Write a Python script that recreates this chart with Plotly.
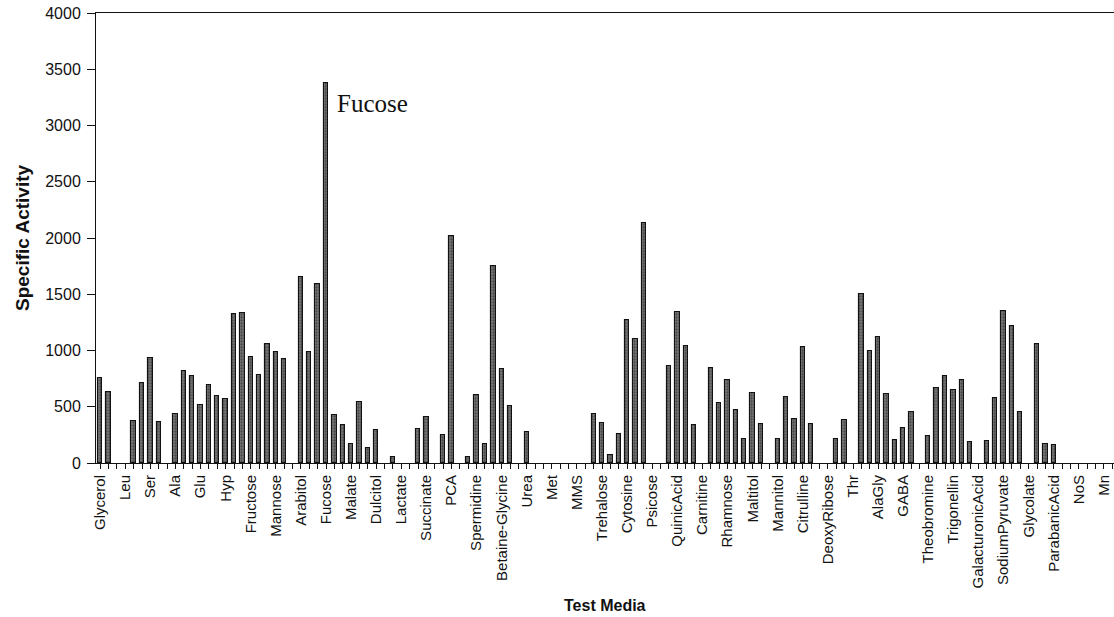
import plotly.graph_objects as go

# Test media, one name per group of three wells
media = [
    "Glycerol", "Leu", "Ser", "Ala", "Glu", "Hyp", "Fructose", "Mannose",
    "Arabitol", "Fucose", "Malate", "Dulcitol", "Lactate", "Succinate", "PCA",
    "Spermidine", "Betaine-Glycine", "Urea", "Met", "MMS", "Trehalose",
    "Cytosine", "Psicose", "QuinicAcid", "Carnitine", "Rhamnose", "Maltitol",
    "Mannitol", "Citrulline", "DeoxyRibose", "Thr", "AlaGly", "GABA",
    "Theobromine", "Trigonellin", "GalacturonicAcid", "SodiumPyruvate",
    "Glycolate", "ParabanicAcid", "NoS", "Mn",
]

# Specific activity for every well (three wells per medium)
activity = [
    755, 635, 0, 0, 373, 714, 930, 361, 0,          # Glycerol, Leu, Ser
    435, 820, 775, 520, 690, 595, 570, 1325, 1335,  # Ala, Glu, Hyp
    945, 780, 1055, 985, 925, 0, 1650, 985, 1590,   # Fructose, Mannose, Arabitol
    3380, 425, 340, 170, 545, 130, 290, 0, 50,      # Fucose, Malate, Dulcitol
    0, 0, 300, 410, 0, 245, 2015, 0, 55,            # Lactate, Succinate, PCA
    605, 170, 1750, 840, 505, 0, 275, 0, 0,         # Spermidine, Betaine-Glycine, Urea
    0, 0, 0, 0, 0, 435, 360, 70, 255,               # Met, MMS, Trehalose
    1275, 1105, 2135, 0, 0, 860, 1345, 1040, 335,   # Cytosine, Psicose, QuinicAcid
    0, 845, 530, 735, 470, 215, 625, 345, 0,        # Carnitine, Rhamnose, Maltitol
    210, 590, 395, 1030, 345, 0, 0, 213, 382,       # Mannitol, Citrulline, DeoxyRibose
    0, 1500, 992, 1117, 613, 201, 311, 453, 0,      # Thr, AlaGly, GABA
    240, 667, 770, 652, 734, 187, 0, 198, 578,      # Theobromine, Trigonellin, GalacturonicAcid
    1354, 1220, 450, 0, 1060, 172, 160, 0, 0,       # SodiumPyruvate, Glycolate, ParabanicAcid
    0, 0, 0, 0, 0,                                  # NoS, Mn
]

wells = list(range(len(activity)))
tick_text = [media[i // 3] if i % 3 == 0 and i // 3 < len(media) else "" for i in wells]
# empty wells are left blank so no outline stub is drawn on the axis
heights = [v if v > 0 else None for v in activity]

fig = go.Figure()
fig.add_trace(go.Bar(
    x=wells,
    y=heights,
    width=0.52,
    marker=dict(
        color="#777777",
        line=dict(color="#111111", width=1.1),
        pattern=dict(shape=".", fgcolor="#1e1e1e", size=3, solidity=0.45),
    ),
    showlegend=False,
))

fig.add_annotation(
    x=27, y=3200, xref="x", yref="y",
    text="Fucose", showarrow=False,
    xanchor="left", yanchor="middle", xshift=9,
    font=dict(family="Liberation Serif, Times New Roman, serif", size=25, color="#111"),
)

# Axis titles
fig.add_annotation(
    x=0.5, y=0, xref="paper", yref="paper",
    text="<b>Test Media</b>", showarrow=False,
    xanchor="center", yanchor="middle", yshift=-142,
    font=dict(family="Liberation Sans, Arial, sans-serif", size=16, color="#111"),
)
fig.add_annotation(
    x=0, y=0.5, xref="paper", yref="paper",
    text="<b>Specific Activity</b>", showarrow=False, textangle=-90,
    xanchor="center", yanchor="middle", xshift=-74,
    font=dict(family="Liberation Sans, Arial, sans-serif", size=19, color="#111"),
)

fig.update_layout(
    width=1114, height=617,
    margin=dict(l=96, r=0, t=13, b=154),
    paper_bgcolor="white", plot_bgcolor="white",
    bargap=0,
    font=dict(family="Liberation Sans, Arial, sans-serif", color="#111"),
)
fig.update_xaxes(
    range=[-0.5, 121.2],
    tickmode="array", tickvals=wells, ticktext=tick_text,
    tickangle=-90, tickfont=dict(size=15),
    ticks="outside", ticklen=5, tickcolor="#111", tickwidth=1,
    showline=True, linecolor="#111", linewidth=1, mirror=True,
    showgrid=False, zeroline=False, automargin=False,
)
fig.update_yaxes(
    range=[0, 4000], dtick=500,
    tickfont=dict(size=16),
    ticks="outside", ticklen=8, tickcolor="#111", tickwidth=1,
    ticklabelstandoff=3,
    showline=True, linecolor="#111", linewidth=1,
    showgrid=False, zeroline=False, automargin=False,
)

fig.write_html("out.html")
